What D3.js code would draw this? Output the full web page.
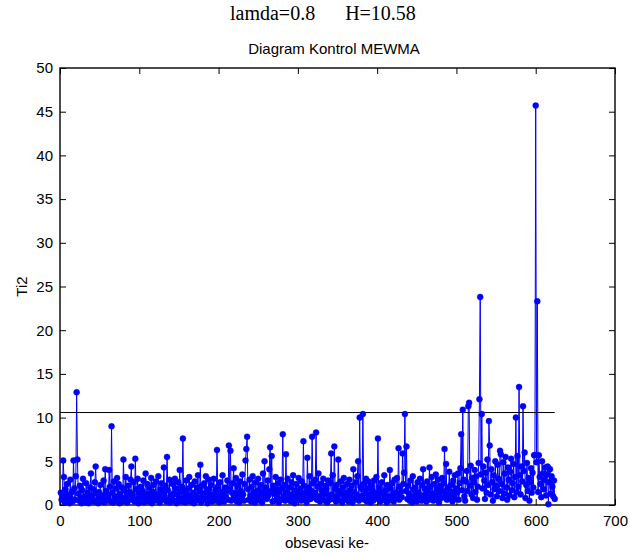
<!DOCTYPE html>
<html>
<head>
<meta charset="utf-8">
<script src="https://cdn.jsdelivr.net/npm/d3@7"></script>
<style>
  html, body { margin: 0; padding: 0; background: #fff; }
  svg { display: block; }
  text { font-family: "Liberation Sans", Arial, sans-serif; fill: #000; }
</style>
</head>
<body>
<svg id="chart" width="630" height="552"></svg>
<script>
// MEWMA control chart: Ti2 statistic per observation, with control limit H
const lambda = 0.8;
const H = 10.58;

const ti2 = [
  1.4, 0.6, 1.1, 5.1, 3.2, 0.3, 1.8, 0.9, 2.4, 0.5,
  1.2, 0.2, 2.9, 0.7, 1.5, 0.4, 5.1, 1.9, 0.6, 3.3,
  12.9, 5.2, 1.3, 0.5, 2.2, 0.8, 0.2, 1.7, 3.0, 0.6,
  1.0, 0.3, 2.5, 0.9, 1.4, 0.2, 0.7, 2.0, 3.6, 1.1,
  0.5, 1.8, 0.4, 2.6, 4.4, 1.3, 0.6, 0.2, 1.5, 0.9,
  2.3, 0.4, 1.1, 0.7, 2.8, 0.3, 4.1, 1.6, 0.5, 1.2,
  0.8, 4.0, 2.1, 0.4, 9.0, 1.4, 0.3, 2.7, 1.0, 0.5,
  1.9, 3.1, 0.6, 2.4, 0.2, 1.3, 0.9, 2.0, 0.4, 5.2,
  1.7, 0.5, 3.2, 1.0, 0.3, 2.2, 0.8, 1.5, 2.9, 4.4,
  0.6, 1.2, 2.6, 0.4, 5.3, 1.8, 0.7, 3.0, 0.2, 1.4,
  0.9, 2.1, 0.5, 1.6, 2.8, 0.3, 1.1, 3.6, 0.7, 2.4,
  1.3, 0.4, 2.0, 0.8, 3.1, 0.2, 1.5, 2.3, 0.6, 1.0,
  2.7, 0.5, 1.2, 3.3, 0.9, 0.3, 1.8, 2.5, 0.7, 1.4,
  4.3, 1.0, 2.2, 0.4, 5.5, 1.7, 0.6, 2.9, 0.3, 1.1,
  0.8, 2.4, 1.3, 0.5, 3.0, 1.9, 0.2, 1.2, 2.6, 0.7,
  4.0, 1.5, 0.4, 2.1, 7.6, 0.9, 1.6, 0.3, 2.8, 1.2,
  0.6, 1.9, 3.2, 0.4, 1.0, 2.3, 0.7, 1.4, 0.2, 2.7,
  1.1, 0.5, 2.0, 3.4, 0.8, 1.6, 4.6, 0.3, 2.2, 1.3,
  0.6, 2.5, 0.9, 3.3, 1.4, 0.2, 1.8, 2.9, 0.7, 1.2,
  2.3, 0.4, 1.0, 3.0, 0.8, 1.7, 0.5, 6.3, 2.1, 1.1,
  0.3, 2.6, 1.5, 0.7, 3.4, 1.2, 0.4, 2.0, 0.9, 1.6,
  2.8, 0.6, 6.8, 1.9, 6.2, 0.5, 1.4, 2.5, 4.2, 0.8,
  1.3, 3.1, 0.4, 2.2, 1.0, 0.3, 2.7, 1.6, 0.7, 3.5,
  1.2, 0.5, 2.4, 5.1, 6.4, 7.8, 1.8, 0.6, 2.9, 1.1,
  0.4, 2.1, 3.3, 0.8, 1.5, 0.3, 2.6, 1.0, 0.6, 3.0,
  1.7, 0.5, 2.3, 1.2, 0.3, 3.6, 0.9, 5.0, 1.4, 2.0,
  0.7, 2.8, 1.1, 4.1, 6.6, 1.6, 5.6, 0.4, 2.2, 1.3,
  0.5, 3.2, 1.8, 0.8, 2.5, 0.3, 1.5, 2.9, 0.6, 1.9,
  8.1, 1.0, 2.3, 0.5, 5.8, 1.4, 3.0, 0.7, 2.0, 1.2,
  0.4, 2.6, 1.1, 3.4, 0.9, 0.2, 1.7, 2.4, 0.6, 1.3,
  3.1, 0.8, 1.9, 0.5, 2.7, 1.2, 7.3, 2.2, 0.6, 1.5,
  0.3, 5.4, 2.0, 1.1, 3.3, 0.7, 1.6, 7.8, 2.5, 0.9,
  1.4, 2.9, 8.3, 0.6, 2.1, 3.6, 1.0, 0.4, 2.4, 1.7,
  0.8, 3.0, 1.3, 0.5, 2.2, 1.9, 0.3, 2.8, 1.1, 0.6,
  2.5, 5.9, 1.2, 3.4, 0.7, 6.7, 1.8, 0.4, 2.3, 1.0,
  5.2, 1.6, 0.5, 2.7, 1.3, 0.3, 2.0, 3.1, 0.8, 1.4,
  0.6, 2.4, 1.1, 0.4, 2.9, 1.7, 0.9, 2.2, 0.3, 4.1,
  1.5, 0.7, 2.6, 1.2, 3.3, 5.0, 0.5, 10.0, 2.1, 1.0,
  1.8, 10.4, 2.4, 0.6, 1.3, 3.0, 0.4, 1.9, 2.7, 0.8,
  1.2, 0.3, 2.2, 1.6, 0.5, 2.8, 1.1, 0.7, 3.2, 1.4,
  7.6, 0.9, 2.0, 0.4, 1.5, 2.6, 0.6, 1.3, 3.4, 0.8,
  1.7, 0.3, 2.3, 1.0, 0.5, 4.0, 1.9, 0.7, 2.5, 1.2,
  0.4, 2.9, 1.4, 0.8, 3.1, 1.1, 6.5, 0.6, 2.1, 1.5,
  0.9, 5.9, 2.4, 3.7, 10.4, 1.6, 6.7, 0.7, 2.2, 1.3,
  0.5, 2.8, 1.0, 0.3, 3.3, 1.8, 0.6, 2.0, 1.2, 0.4,
  2.6, 1.4, 0.7, 3.0, 1.1, 0.5, 2.3, 4.1, 0.8, 1.9,
  1.2, 0.4, 2.7, 1.5, 0.6, 4.3, 2.1, 0.9, 3.2, 1.3,
  0.5, 2.4, 1.0, 3.5, 0.7, 1.8, 2.9, 0.3, 1.4, 2.2,
  0.8, 3.1, 1.6, 2.5, 6.4, 1.1, 4.7, 0.6, 2.0, 1.3,
  3.8, 0.9, 2.3, 1.5, 0.4, 2.8, 1.2, 3.4, 0.7, 1.9,
  1.4, 3.6, 0.6, 2.5, 4.2, 8.1, 1.7, 10.9, 2.9, 1.0,
  0.5, 2.7, 3.9, 1.6, 11.3, 11.7, 2.2, 4.5, 1.2, 3.1,
  0.8, 2.6, 4.0, 1.5, 3.3, 0.6, 2.1, 4.8, 12.1, 23.8,
  3.5, 10.4, 1.9, 4.4, 2.8, 0.7, 3.7, 1.4, 5.2, 2.3,
  9.6, 6.8, 1.2, 4.1, 2.6, 0.5, 3.4, 1.8, 5.0, 2.2,
  1.0, 4.6, 3.0, 1.6, 6.2, 5.8, 2.4, 0.8, 4.9, 1.3,
  3.6, 5.5, 2.0, 0.6, 4.3, 2.9, 1.1, 3.8, 5.3, 1.7,
  2.5, 4.7, 0.9, 3.2, 10.0, 1.5, 5.6, 2.1, 13.5, 3.4,
  1.2, 4.4, 2.7, 11.3, 3.9, 6.0, 0.8, 2.3, 4.8, 1.6,
  3.1, 0.5, 2.6, 4.2, 1.4, 3.7, 2.0, 5.7, 5.7, 45.7,
  4.9, 23.3, 1.5, 5.7, 3.2, 2.4, 0.9, 5.0, 3.6, 1.8,
  2.9, 4.3, 1.1, 3.5, 4.4, 0.1, 2.6, 4.1, 1.3, 3.3,
  2.1, 1.0, 2.8, 0.7
];

const xTicks = [0, 100, 200, 300, 400, 500, 600, 700];
const yTicks = [0, 5, 10, 15, 20, 25, 30, 35, 40, 45, 50];

const svg = d3.select("#chart");
const plotLeft = 60, plotRight = 615, plotTop = 68, plotBottom = 505;

const x = d3.scaleLinear().domain([0, 700]).range([plotLeft, plotRight]);
const y = d3.scaleLinear().domain([0, 50]).range([plotBottom, plotTop]);

const points = ti2.map((v, i) => ({ obs: i + 1, v }));

// header texts
svg.append("text")
  .attr("x", 230).attr("y", 19.5)
  .attr("text-anchor", "start")
  .style("font-family", "'Liberation Serif', 'Times New Roman', serif")
  .style("font-size", "20px")
  .style("white-space", "pre")
  .text(`lamda=${lambda}      H=${H}`);

svg.append("text")
  .attr("x", 334).attr("y", 54)
  .attr("text-anchor", "middle")
  .style("font-size", "15px")
  .text("Diagram Kontrol MEWMA");

// axes (MATLAB-like box with inward ticks)
const tickLen = 6;
const axB = svg.append("g").attr("transform", `translate(0,${plotBottom})`)
  .call(d3.axisBottom(x).tickValues(xTicks).tickSize(-tickLen).tickPadding(10).tickFormat(d3.format("d")));
const axT = svg.append("g").attr("transform", `translate(0,${plotTop})`)
  .call(d3.axisTop(x).tickValues(xTicks).tickSize(-tickLen).tickFormat(""));
const axL = svg.append("g").attr("transform", `translate(${plotLeft},0)`)
  .call(d3.axisLeft(y).tickValues(yTicks).tickSize(-tickLen).tickPadding(7).tickFormat(d3.format("d")));
const axR = svg.append("g").attr("transform", `translate(${plotRight},0)`)
  .call(d3.axisRight(y).tickValues(yTicks).tickSize(-tickLen).tickFormat(""));

[axB, axT, axL, axR].forEach(g => {
  g.select(".domain").remove();
  g.selectAll(".tick line").attr("stroke", "#000").attr("stroke-width", 1);
  g.selectAll(".tick text")
    .style("font-family", "'Liberation Sans', Arial, sans-serif")
    .style("font-size", "15px").attr("fill", "#000");
});

svg.append("rect")
  .attr("x", plotLeft).attr("y", plotTop)
  .attr("width", plotRight - plotLeft).attr("height", plotBottom - plotTop)
  .attr("fill", "none").attr("stroke", "#000").attr("stroke-width", 1.4);

// axis titles
svg.append("text")
  .attr("x", 327).attr("y", 548)
  .attr("text-anchor", "middle")
  .style("font-size", "15px")
  .text("obsevasi ke-");

svg.append("text")
  .attr("transform", `translate(27,${y(25)}) rotate(-90)`)
  .attr("text-anchor", "middle")
  .style("font-size", "15px")
  .text("Ti2");

// series line
const line = d3.line().x(d => x(d.obs)).y(d => y(d.v));
svg.append("path")
  .datum(points)
  .attr("d", line)
  .attr("fill", "none")
  .attr("stroke", "#0000ff")
  .attr("stroke-width", 1);

// control limit
svg.append("line")
  .attr("x1", x(0)).attr("x2", x(ti2.length))
  .attr("y1", y(H)).attr("y2", y(H))
  .attr("stroke", "#000").attr("stroke-width", 1);

// markers
svg.append("g").selectAll("circle")
  .data(points)
  .join("circle")
  .attr("cx", d => x(d.obs))
  .attr("cy", d => y(d.v))
  .attr("r", 3)
  .attr("fill", "#0000ff")
  .attr("stroke", "#0000ff")
  .attr("stroke-width", 0.4);
</script>
</body>
</html>
